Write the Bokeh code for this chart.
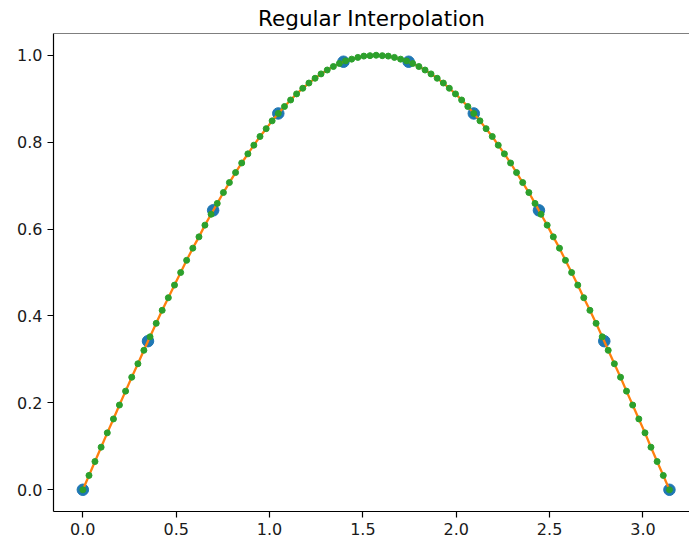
from bokeh.plotting import figure
from bokeh.models import Range1d, FixedTicker, PrintfTickFormatter, Span
from bokeh.embed import file_html
from bokeh.resources import INLINE

# sample points (blue)
x_pts = [0.0, 0.349, 0.698, 1.047, 1.396, 1.745, 2.094, 2.443, 2.793, 3.142]
y_pts = [0.0, 0.342, 0.643, 0.866, 0.985, 0.985, 0.866, 0.643, 0.342, 0.0]

# interpolated points (orange line + green dots)
x_new = [
    0.000, 0.033, 0.065, 0.098, 0.131, 0.164, 0.196, 0.229, 0.262, 0.295, 0.327, 0.360,
    0.393, 0.425, 0.458, 0.491, 0.524, 0.556, 0.589, 0.622, 0.654, 0.687, 0.720, 0.753,
    0.785, 0.818, 0.851, 0.884, 0.916, 0.949, 0.982, 1.014, 1.047, 1.080, 1.113, 1.145,
    1.178, 1.211, 1.244, 1.276, 1.309, 1.342, 1.374, 1.407, 1.440, 1.473, 1.505, 1.538,
    1.571,
    1.604, 1.636, 1.669, 1.702, 1.734, 1.767, 1.800, 1.833, 1.865, 1.898, 1.931, 1.963,
    1.996, 2.029, 2.062, 2.094, 2.127, 2.160, 2.193, 2.225, 2.258, 2.291, 2.323, 2.356,
    2.389, 2.422, 2.454, 2.487, 2.520, 2.553, 2.585, 2.618, 2.651, 2.683, 2.716, 2.749,
    2.782, 2.814, 2.847, 2.880, 2.912, 2.945, 2.978, 3.011, 3.043, 3.076, 3.109, 3.142,
]
y_new = [
    0.000, 0.033, 0.065, 0.098, 0.131, 0.163, 0.195, 0.227, 0.259, 0.290, 0.321, 0.352,
    0.383, 0.413, 0.442, 0.471, 0.500, 0.528, 0.556, 0.582, 0.609, 0.634, 0.659, 0.684,
    0.707, 0.730, 0.752, 0.773, 0.793, 0.813, 0.831, 0.849, 0.866, 0.882, 0.897, 0.911,
    0.924, 0.936, 0.947, 0.957, 0.966, 0.974, 0.981, 0.987, 0.991, 0.995, 0.998, 0.999,
    1.000,
    0.999, 0.998, 0.995, 0.991, 0.987, 0.981, 0.974, 0.966, 0.957, 0.947, 0.936, 0.924,
    0.911, 0.897, 0.882, 0.866, 0.849, 0.831, 0.813, 0.793, 0.773, 0.752, 0.730, 0.707,
    0.684, 0.659, 0.634, 0.609, 0.582, 0.556, 0.528, 0.500, 0.471, 0.442, 0.413, 0.383,
    0.352, 0.321, 0.290, 0.259, 0.227, 0.195, 0.163, 0.131, 0.098, 0.065, 0.033, 0.000,
]

x_ticks = [0.0, 0.5, 1.0, 1.5, 2.0, 2.5, 3.0]
y_ticks = [0.0, 0.2, 0.4, 0.6, 0.8, 1.0]

FONT = "DejaVu Sans"

p = figure(width=689, height=547, output_backend="svg", toolbar_location=None,
           x_range=Range1d(-0.1571, 3.2494), y_range=Range1d(-0.05, 1.05),
           min_border_left=53, min_border_right=0, min_border_top=33, min_border_bottom=36,
           title="Regular Interpolation")

p.title.align = "center"
p.title.offset = 5
p.title.text_font = FONT
p.title.text_font_size = "21.5px"
p.title.text_font_style = "normal"
p.title.text_color = "#000000"
p.title.standoff = 5

p.outline_line_color = None
p.grid.visible = False
p.background_fill_color = "white"
p.border_fill_color = "white"

for ax in (p.xaxis, p.yaxis):
    ax.axis_line_color = "black"
    ax.axis_line_width = 1.2
    ax.major_tick_line_color = "black"
    ax.major_tick_line_width = 1.2
    ax.major_tick_out = 6
    ax.major_tick_in = 0
    ax.minor_tick_line_color = None
    ax.major_label_text_font = FONT
    ax.major_label_text_font_size = "16px"
    ax.major_label_text_color = "#1a1a1a"
    ax.major_label_standoff = 5
    ax.formatter = PrintfTickFormatter(format="%.1f")

p.xaxis.ticker = FixedTicker(ticks=x_ticks)
p.yaxis.ticker = FixedTicker(ticks=y_ticks)

top_line = Span(location=1.05, dimension="width", line_color="black", line_width=1.2)
p.add_layout(top_line)

p.scatter(x_pts, y_pts, size=11.5, fill_color="#1f77b4", line_color="#1f77b4")
p.line(x_new, y_new, line_color="#ff7f0e", line_width=2.3)
p.scatter(x_new, y_new, size=6, fill_color="#2ca02c", line_color="#2ca02c")

open("out.html", "w").write(file_html(p, INLINE))
